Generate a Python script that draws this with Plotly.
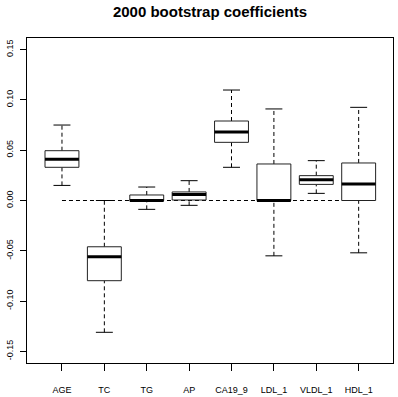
import plotly.graph_objects as go

categories = ["AGE", "TC", "TG", "AP", "CA19_9", "LDL_1", "VLDL_1", "HDL_1"]
lower_whisker = [0.015, -0.131, -0.0088, -0.0048, 0.033, -0.055, 0.0071, -0.052]
q1 = [0.033, -0.0797, 0.0, 0.0005, 0.0578, 0.0, 0.016, 0.0]
median = [0.041, -0.056, 0.0, 0.006, 0.068, 0.0, 0.0207, 0.0164]
q3 = [0.0495, -0.046, 0.0055, 0.0085, 0.079, 0.0363, 0.0247, 0.0373]
upper_whisker = [0.075, 0.0, 0.0134, 0.0197, 0.1098, 0.091, 0.0396, 0.0926]
y_ticks = [-0.15, -0.10, -0.05, 0.00, 0.05, 0.10, 0.15]
ref_value = 0.0

BOX_HALF = 0.4
CAP_HALF = 0.2
positions = list(range(1, len(categories) + 1))

fig = go.Figure()

# reference dashed line at zero
fig.add_trace(go.Scatter(x=[positions[0], positions[-1] + BOX_HALF], y=[ref_value, ref_value],
                         mode="lines", line=dict(color="black", width=1, dash="4px,3px"),
                         hoverinfo="skip", showlegend=False))

# whiskers (dashed)
wx, wy = [], []
for p, lo, a, b, hi in zip(positions, lower_whisker, q1, q3, upper_whisker):
    wx += [p, p, None, p, p, None]
    wy += [lo, a, None, b, hi, None]
fig.add_trace(go.Scatter(x=wx, y=wy, mode="lines",
                         line=dict(color="black", width=1, dash="4px,3px"),
                         hoverinfo="skip", showlegend=False))

# caps
cx, cy = [], []
for p, lo, hi in zip(positions, lower_whisker, upper_whisker):
    cx += [p - CAP_HALF, p + CAP_HALF, None, p - CAP_HALF, p + CAP_HALF, None]
    cy += [lo, lo, None, hi, hi, None]
fig.add_trace(go.Scatter(x=cx, y=cy, mode="lines", line=dict(color="black", width=1),
                         hoverinfo="skip", showlegend=False))

# boxes
for p, a, b in zip(positions, q1, q3):
    fig.add_trace(go.Scatter(x=[p - BOX_HALF, p + BOX_HALF, p + BOX_HALF, p - BOX_HALF, p - BOX_HALF],
                             y=[a, a, b, b, a], mode="lines", fill="toself",
                             fillcolor="white", line=dict(color="#222222", width=1),
                             hoverinfo="skip", showlegend=False))

# medians
mx, my = [], []
for p, m in zip(positions, median):
    mx += [p - BOX_HALF, p + BOX_HALF, None]
    my += [m, m, None]
fig.add_trace(go.Scatter(x=mx, y=my, mode="lines", line=dict(color="black", width=3),
                         hoverinfo="skip", showlegend=False))

fig.update_layout(
    width=398, height=397,
    margin=dict(l=27, r=5, t=38, b=34, autoexpand=False),
    paper_bgcolor="white", plot_bgcolor="white",
    font=dict(family="Liberation Sans, Arial, sans-serif", color="black"),
    title=dict(text="<b>2000 bootstrap coefficients</b>", x=(27 + 393) / 2 / 398, xanchor="center",
               y=1 - 12 / 397, yanchor="middle", font=dict(size=15, color="black")),
    xaxis=dict(range=[0.175, 8.81], tickmode="array", tickvals=positions, ticktext=categories,
               showgrid=False, zeroline=False, showline=True, linecolor="black", linewidth=1,
               mirror=True, ticks="outside", ticklen=7, tickcolor="black", automargin=False,
               tickfont=dict(size=9), ticklabelstandoff=11),
    yaxis=dict(range=[-0.1615, 0.1615], tickmode="array", tickvals=y_ticks,
               ticktext=[f"{v:.2f}" for v in y_ticks], tickangle=-90, automargin=False,
               showgrid=False, zeroline=False, showline=True, linecolor="black", linewidth=1,
               mirror=True, ticks="outside", ticklen=6, tickcolor="black",
               tickfont=dict(size=9), ticklabelstandoff=3),
)

fig.write_html("out.html", config={"displayModeBar": False},
               post_script="document.body.style.margin='0';document.body.style.padding='0';")
